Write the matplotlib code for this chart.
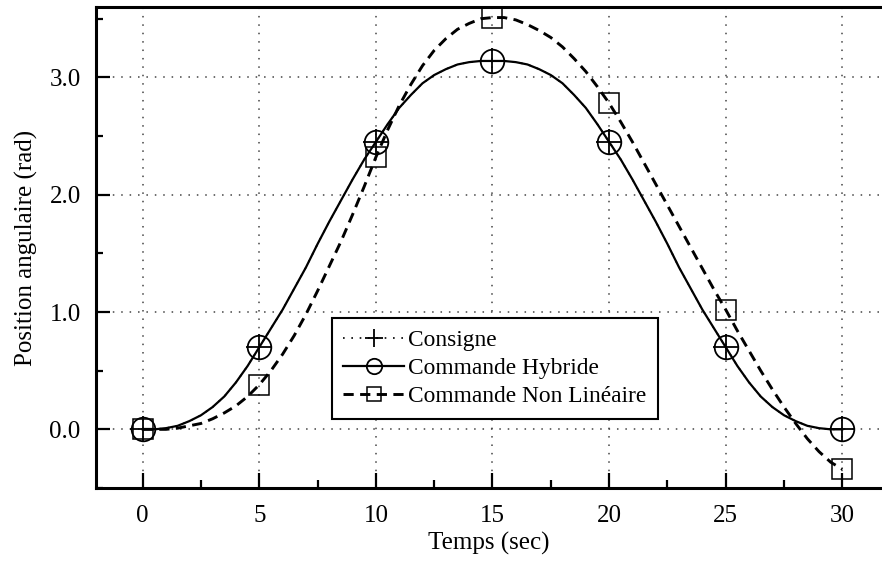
import matplotlib.pyplot as plt
import numpy as np
from matplotlib.ticker import MultipleLocator, FormatStrFormatter

plt.rcParams['font.family'] = ['Liberation Serif', 'DejaVu Serif']
plt.rcParams['font.size'] = 18

# Temps (s) echantillonne chaque demi-seconde
temps = np.arange(0, 30.5, 0.5)

# Position angulaire de la consigne / commande hybride (rad), 0 a 15 s
hybride_demi = [0.00, 0.00, 0.01, 0.03, 0.07, 0.12, 0.19, 0.28, 0.40, 0.54,
                0.70, 0.86, 1.02, 1.20, 1.38, 1.58, 1.77, 1.95, 2.13, 2.30,
                2.45, 2.60, 2.74, 2.85, 2.95, 3.02, 3.07, 3.11, 3.13, 3.14,
                3.14]
hybride = hybride_demi + hybride_demi[-2::-1]
consigne = list(hybride)

# Position angulaire de la commande non lineaire (rad)
non_lineaire = [0.00, 0.00, 0.00, 0.01, 0.03, 0.05, 0.09, 0.14, 0.20, 0.28,
                0.38, 0.50, 0.64, 0.80, 0.98, 1.18, 1.39, 1.60, 1.83, 2.07,
                2.32, 2.55, 2.76, 2.94, 3.10, 3.23, 3.33, 3.41, 3.46, 3.50,
                3.51, 3.51, 3.49, 3.45, 3.40, 3.34, 3.26, 3.16, 3.05, 2.92,
                2.78, 2.62, 2.45, 2.27, 2.09, 1.91, 1.73, 1.55, 1.37, 1.19,
                1.02, 0.84, 0.67, 0.50, 0.34, 0.19, 0.05, -0.08, -0.19, -0.28,
                -0.34]

fig = plt.figure(figsize=(8.82, 5.64), dpi=100)
ax = fig.add_axes([96 / 882, 76 / 564, 786 / 882, 481 / 564])

ax.plot(temps, consigne, linestyle=(0, (1, 4)), color='black', linewidth=1.2,
        marker='+', markersize=19, markeredgewidth=1.3, markevery=10,
        label='Consigne', zorder=4)
ax.plot(temps, hybride, linestyle='-', color='black', linewidth=1.6,
        marker='o', markersize=17, markerfacecolor='none', markeredgewidth=1.3,
        markevery=10, label='Commande Hybride', zorder=3)
ax.plot(temps, non_lineaire, linestyle=(0, (3.5, 2.2)), color='black', linewidth=2.1,
        marker='s', markersize=15, markerfacecolor='none', markeredgewidth=1.1,
        markevery=10, label='Commande Non Linéaire', zorder=3)

ax.set_xlim(-2, 31.7)
ax.set_ylim(-0.5, 3.6)

ax.xaxis.set_major_locator(MultipleLocator(5))
ax.xaxis.set_minor_locator(MultipleLocator(2.5))
ax.yaxis.set_major_locator(MultipleLocator(1))
ax.yaxis.set_minor_locator(MultipleLocator(0.5))
ax.yaxis.set_major_formatter(FormatStrFormatter('%.1f'))

ax.tick_params(axis='both', which='both', direction='in', width=1.6,
               top=False, right=False)
ax.tick_params(axis='x', which='major', length=11, pad=12)
ax.tick_params(axis='x', which='minor', length=6)
ax.tick_params(axis='y', which='major', length=10, pad=11)
ax.tick_params(axis='y', which='minor', length=5)

for side in ['left', 'bottom', 'top']:
    ax.spines[side].set_linewidth(2.2)
ax.spines['right'].set_visible(False)

ax.grid(True, which='major', linestyle=(0, (1, 4.5)), color='#444444',
        linewidth=1.1, zorder=0)
ax.set_axisbelow(True)

ax.set_xlabel('Temps (sec)', labelpad=4)
ax.set_ylabel('Position angulaire (rad)', labelpad=8)

leg = ax.legend(loc='upper left', bbox_to_anchor=(0.300, 0.353),
                frameon=True, fancybox=False, edgecolor='black',
                fontsize=16.8, markerscale=0.65,
                handlelength=2.6, handletextpad=0.15, labelspacing=0.28,
                borderpad=0.5, borderaxespad=0, framealpha=1)
leg.get_frame().set_linewidth(1.5)

fig.savefig('out.png', dpi=100)
